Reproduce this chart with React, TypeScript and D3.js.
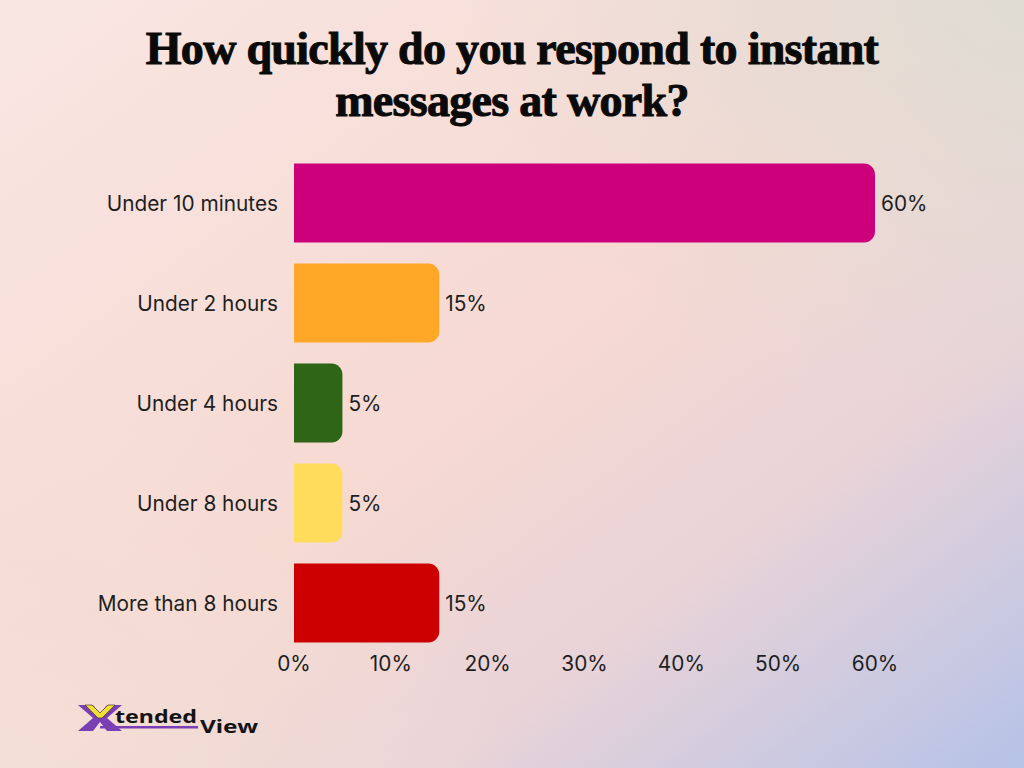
import React from "react";
import * as d3 from "d3";

const categories = ["Under 10 minutes", "Under 2 hours", "Under 4 hours", "Under 8 hours", "More than 8 hours"];
const values = [60, 15, 5, 5, 15];
const barColors = ["#cc007a", "#ffa726", "#2e6517", "#ffdc5c", "#cc0000"];
const tickValues = [0, 10, 20, 30, 40, 50, 60];
const titleLines = ["How quickly do you respond to instant", "messages at work?"];

const W = 1024;
const H = 768;

function roundedRightRect(x0: number, y0: number, w: number, h: number, r: number) {
  const rr = Math.min(r, w / 2, h / 2);
  const p = d3.path();
  p.moveTo(x0, y0);
  p.lineTo(x0 + w - rr, y0);
  p.arcTo(x0 + w, y0, x0 + w, y0 + rr, rr);
  p.lineTo(x0 + w, y0 + h - rr);
  p.arcTo(x0 + w, y0 + h, x0 + w - rr, y0 + h, rr);
  p.lineTo(x0, y0 + h);
  p.closePath();
  return p.toString();
}

export default function App() {
  const x = d3.scaleLinear().domain([0, 60]).range([294, 875]);
  const y = d3.scaleBand<string>().domain(categories).range([153, 653]).paddingInner(0.21).paddingOuter(0.105);
  const font = "Inter, 'Noto Sans', sans-serif";
  return (
    <svg width={W} height={H} style={{ position: "absolute", left: 0, top: 0, display: "block" }}>
      <defs>
        <linearGradient id="bg" x1="0" y1="0" x2="1" y2="1">
          <stop offset="0" stopColor="#f9e6e3" />
          <stop offset="0.5" stopColor="#f6d9d2" />
          <stop offset="0.72" stopColor="#e8d3d8" />
          <stop offset="1" stopColor="#b5c2e7" />
        </linearGradient>
        <radialGradient id="tr" cx="1" cy="0" r="0.55">
          <stop offset="0" stopColor="#dfdcd4" stopOpacity="1" />
          <stop offset="1" stopColor="#dfdcd4" stopOpacity="0" />
        </radialGradient>
        <radialGradient id="bl" cx="0" cy="1" r="0.5">
          <stop offset="0" stopColor="#f3dfd6" stopOpacity="0.9" />
          <stop offset="1" stopColor="#f3dfd6" stopOpacity="0" />
        </radialGradient>
      </defs>
      <rect x={0} y={0} width={W} height={H} fill="url(#bg)" />
      <rect x={0} y={0} width={W} height={H} fill="url(#tr)" />
      <rect x={0} y={0} width={W} height={H} fill="url(#bl)" />

      {titleLines.map((t, i) => (
        <text
          key={i}
          x={512}
          y={64 + i * 52}
          textAnchor="middle"
          fontFamily="'Liberation Serif', 'DejaVu Serif', serif"
          fontWeight={900}
          fontSize={46}
          fill="#0a0a0a"
          stroke="#0a0a0a"
          strokeWidth={1}
          style={{ letterSpacing: "-0.7px" }}
        >
          {t}
        </text>
      ))}

      {categories.map((c, i) => {
        const by = y(c)!;
        const bh = y.bandwidth();
        const bw = x(values[i]) - x(0);
        return (
          <g key={c}>
            <path d={roundedRightRect(x(0), by, bw, bh, 11)} fill={barColors[i]} />
            <text x={278} y={by + bh / 2} dy="0.4em" textAnchor="end" fontFamily={font} fontSize={20.8} fill="#1e1e1e">
              {c}
            </text>
            <text x={x(values[i]) + 6} y={by + bh / 2} dy="0.4em" fontFamily={font} fontSize={20.8} fill="#1e1e1e">
              {values[i]}%
            </text>
          </g>
        );
      })}

      {tickValues.map((t) => (
        <text key={t} x={x(t)} y={663} dy="0.4em" textAnchor="middle" fontFamily={font} fontSize={20.8} fill="#1e1e1e">
          {t}%
        </text>
      ))}

      <g>
        <path d="M78,705 L93,705 L100,714 L107,705 L122,705 L107,718 L122,731 L107,731 L100,722 L93,731 L78,731 L93,718 Z" fill="#7b3fb5" />
        <path d="M85,705 L92,705 L100,713 L108,705 L115,705 L102,718 L98,718 Z" fill="#f0e030" stroke="#2a1a3a" strokeWidth={0.6} />
        <rect x={100} y={726} width={98} height={2.5} fill="#7b3fb5" />
        <text x={115} y={723} fontFamily="'Noto Sans', sans-serif" fontWeight={700} fontSize={18} fill="#141414" textLength={82} lengthAdjust="spacingAndGlyphs">
          tended
        </text>
        <text x={200} y={733} fontFamily="'Noto Sans', sans-serif" fontWeight={700} fontSize={17} fill="#141414" textLength={58} lengthAdjust="spacingAndGlyphs">
          View
        </text>
      </g>
    </svg>
  );
}
